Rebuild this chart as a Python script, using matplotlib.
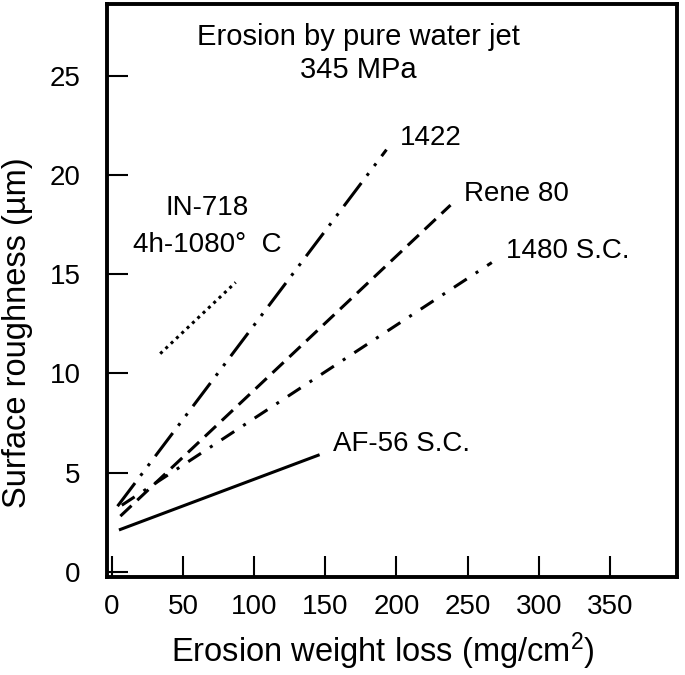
import matplotlib
matplotlib.use('Agg')
import matplotlib.pyplot as plt

plt.rcParams['font.family'] = ['Liberation Sans', 'DejaVu Sans']
plt.rcParams['mathtext.fontset'] = 'custom'
plt.rcParams['mathtext.rm'] = 'Liberation Sans'

# Data (weight loss mg/cm2, roughness um)
af56_x, af56_y = [5, 146], [2.1, 5.9]
a1422_x, a1422_y = [4, 193], [3.3, 21.3]
rene_x, rene_y = [6, 238], [2.8, 18.5]
a1480_x, a1480_y = [7, 267], [3.35, 15.6]
in718_x, in718_y = [34, 87], [11.0, 14.6]

xticks = [0, 50, 100, 150, 200, 250, 300, 350]
yticks = [0, 5, 10, 15, 20, 25]

fig = plt.figure(figsize=(6.85, 6.75), dpi=100)
ax = fig.add_axes([0.156, 0.145, 0.832, 0.849])

lw = 2.2
ax.plot(af56_x, af56_y, color='black', lw=lw, solid_capstyle='butt')
ax.plot(a1422_x, a1422_y, color='black', lw=lw, dashes=(9.5, 3, 1, 3, 1, 3))
ax.plot(rene_x, rene_y, color='black', lw=lw, dashes=(5, 2.6))
ax.plot(a1480_x, a1480_y, color='black', lw=lw, dashes=(5, 3.5, 1, 3.5))
ax.plot(in718_x, in718_y, color='black', lw=lw, dashes=(1, 1.4))

# line labels at the line ends
for name, xs, ys in [('1422', a1422_x, a1422_y), ('Rene 80', rene_x, rene_y),
                     ('1480 S.C.', a1480_x, a1480_y), ('AF-56 S.C.', af56_x, af56_y)]:
    ax.annotate(name, xy=(xs[-1], ys[-1]), xytext=(10, 3), textcoords='offset points',
                fontsize=20, ha='left', va='baseline')

ax.text(67, 18.0, 'IN-718', fontsize=20, ha='center', va='baseline')
ax.text(67, 16.13, '4h-1080°  C', fontsize=20, ha='center', va='baseline')
ax.text(173, 26.58, 'Erosion by pure water jet', fontsize=21, ha='center', va='baseline')
ax.text(173, 24.92, '345 MPa', fontsize=21, ha='center', va='baseline')

ax.set_xlim(-3.5, 397)
ax.set_ylim(-0.28, 28.65)
ax.set_xticks(xticks)
ax.set_yticks(yticks)
ax.tick_params(direction='in', length=15, width=1.5, labelsize=20,
               top=False, right=False)
ax.tick_params(axis='x', pad=12)
ax.tick_params(axis='y', pad=19)
for s in ax.spines.values():
    s.set_linewidth(2.8)

fig.text(383 / 685, 1 - 662 / 675, r'Erosion weight loss (mg/cm$\mathregular{^2}$)',
         fontsize=23.5, ha='center', va='baseline')
fig.text(18 / 685, 1 - 333 / 675, 'Surface roughness (µm)', fontsize=23.5,
         rotation=90, ha='center', va='center')

fig.savefig('out.png', dpi=100)
